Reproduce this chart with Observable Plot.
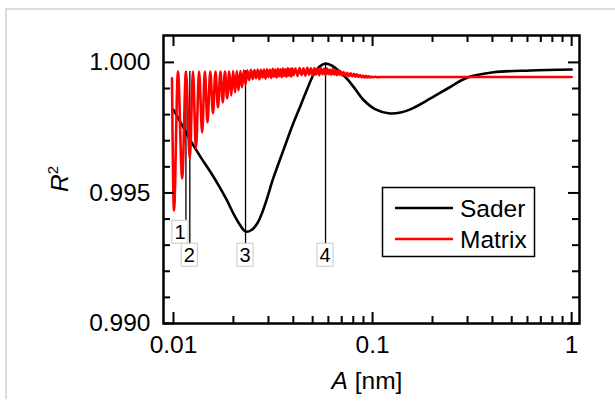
<!DOCTYPE html>
<html><head><meta charset="utf-8">
<script src="https://cdn.jsdelivr.net/npm/d3@7"></script>
<script src="https://cdn.jsdelivr.net/npm/@observablehq/plot@0.6"></script>
<style>
body{margin:0;background:#fff;}
#wrap{position:relative;width:615px;height:412px;overflow:hidden;background:#fff}
#edge{position:absolute;left:5px;top:8px;width:620px;height:389px;border-left:2px solid #dcdcdc;border-top:2px solid #dcdcdc;}
#wrap svg{position:absolute;left:0;top:0}
</style></head><body><div id="wrap"><div id="edge"></div></div>
<script>
// Sader curve
const saderA = [0.0100, 0.010971, 0.012173, 0.013668, 0.015343, 0.016827, 0.018459, 0.020253, 0.021723, 0.023011, 0.024650, 0.026427, 0.028003, 0.029670, 0.031442, 0.035706, 0.039628, 0.043459, 0.047136, 0.050522, 0.054163, 0.058047, 0.062233, 0.06746, 0.07487, 0.08212, 0.09011, 0.10353, 0.12030, 0.13820, 0.16070, 0.19561, 0.23815, 0.30010, 0.40550, 0.62230, 1.0];
const saderR = [0.99818, 0.99764, 0.99701, 0.99638, 0.99580, 0.99530, 0.99475, 0.99413, 0.99374, 0.99352, 0.99358, 0.99385, 0.99428, 0.99485, 0.99548, 0.99665, 0.99759, 0.99834, 0.99901, 0.99953, 0.99984, 0.99996, 0.99988, 0.99969, 0.99935, 0.99896, 0.99856, 0.99820, 0.99805, 0.99808, 0.99826, 0.99862, 0.99900, 0.99942, 0.99962, 0.99969, 0.99973];
// Matrix curve
const matrixA = [0.009828, 0.010058, 0.010534, 0.011057, 0.011555, 0.012076, 0.012529, 0.012971, 0.013444, 0.013934, 0.014376, 0.014815, 0.015303, 0.015789, 0.016253, 0.016730, 0.017221, 0.017684, 0.018139, 0.018606, 0.019055, 0.019501, 0.019935, 0.020378, 0.020807, 0.021219, 0.021666, 0.022096, 0.022561, 0.023010,
 0.0235, 0.0240, 0.0245, 0.0250, 0.0255, 0.0260, 0.0265, 0.0270, 0.0275, 0.0280, 0.0285, 0.0290, 0.0295, 0.0300, 0.0305, 0.0310, 0.0315, 0.0320, 0.0325, 0.0330, 0.0335, 0.0340, 0.0345, 0.0350, 0.0355, 0.0360, 0.0365, 0.0370, 0.0375, 0.0380, 0.0385, 0.0390, 0.0395, 0.0400,
 0.041, 0.042, 0.043, 0.044, 0.045, 0.046, 0.047, 0.048, 0.049, 0.050, 0.051, 0.052, 0.053, 0.054, 0.055, 0.056, 0.057, 0.058, 0.059, 0.060, 0.061, 0.062, 0.063, 0.064, 0.065, 0.066, 0.067, 0.068, 0.069, 0.070,
 0.0715, 0.073, 0.0745, 0.076, 0.0775, 0.079, 0.0805, 0.082, 0.0835, 0.085, 0.0865, 0.088, 0.0895, 0.091, 0.0925, 0.094, 0.0955, 0.097, 0.0985, 0.100, 0.103, 0.106, 0.110, 1.0];
const matrixR = [0.99939, 0.99433, 0.99965, 0.99556, 0.99965, 0.99632, 0.99965, 0.99670, 0.99965, 0.99732, 0.99965, 0.99770, 0.99965, 0.99805, 0.99965, 0.99828, 0.99965, 0.99847, 0.99965, 0.99862, 0.99965, 0.99873, 0.99967, 0.99885, 0.99967, 0.99893, 0.99967, 0.99904, 0.99969, 0.99916,
 0.99970, 0.99932, 0.99972, 0.99936, 0.99971, 0.99939, 0.99973, 0.99935, 0.99972, 0.99942, 0.99973, 0.99938, 0.99974, 0.99944, 0.99972, 0.99940, 0.99975, 0.99945, 0.99973, 0.99942, 0.99975, 0.99947, 0.99974, 0.99943, 0.99976, 0.99948, 0.99974, 0.99945, 0.99977, 0.99949, 0.99975, 0.99946, 0.99977, 0.99951,
 0.99976, 0.99948, 0.99978, 0.99952, 0.99977, 0.99949, 0.99979, 0.99953, 0.99977, 0.99950, 0.99978, 0.99954, 0.99976, 0.99951, 0.99977, 0.99955, 0.99975, 0.99952, 0.99976, 0.99955, 0.99973, 0.99953, 0.99974, 0.99954, 0.99971, 0.99951, 0.99970, 0.99953, 0.99967, 0.99950,
 0.99963, 0.99949, 0.99960, 0.99947, 0.99958, 0.99946, 0.99956, 0.99945, 0.99954, 0.99944, 0.99952, 0.99943, 0.99950, 0.99942, 0.99949, 0.99942, 0.99947, 0.99942, 0.99946, 0.99943, 0.99945, 0.99943, 0.99944, 0.99944];
// Numbered markers
const markerA = [0.01155, 0.01208, 0.02301, 0.05805];
const markerTop = [0.99965, 0.99965, 0.99968, 0.99996];
const markerBottom = [0.99395, 0.99303, 0.99303, 0.99303];
const markerLabelR = [0.99349, 0.99261, 0.99261, 0.99261];
const markerLabel = ["1", "2", "3", "4"];
// Axes
const xTicks = [0.01, 0.1, 1];
const xTickLabels = ["0.01", "0.1", "1"];
const xMinor = [0.02, 0.03, 0.04, 0.05, 0.06, 0.07, 0.08, 0.09, 0.2, 0.3, 0.4, 0.5, 0.6, 0.7, 0.8, 0.9];
const yTicks = [0.990, 0.995, 1.000];
const yTickLabels = ["0.990", "0.995", "1.000"];
const yMinor = [0.991, 0.992, 0.993, 0.994, 0.996, 0.997, 0.998, 0.999];
const seriesNames = ["Sader", "Matrix"];
const seriesColors = ["#000000", "#ff0000"];

const sader = saderA.map((a, i) => ({A: a, R: saderR[i]}));
const matrix = matrixA.map((a, i) => ({A: a, R: matrixR[i]}));
const markers = markerA.map((a, i) => ({A: a, top: markerTop[i], bottom: markerBottom[i], ly: markerLabelR[i], label: markerLabel[i]}));

const W = 615, H = 412, mL = 163, mR = 36, mT = 35, mB = 89;
const fw = W - mL - mR, fh = H - mT - mB;
const FONT = "'Liberation Sans', Arial, Helvetica, sans-serif";
const FS = 24.5;
const LFS = 20;

const plot = Plot.plot({
  width: W, height: H,
  marginLeft: mL, marginRight: mR, marginTop: mT, marginBottom: mB,
  style: {fontFamily: FONT, background: "transparent", overflow: "visible"},
  x: {type: "log", domain: [0.00891, 1.095], axis: null},
  y: {domain: [0.990, 1.00103], axis: null},
  marks: [
    Plot.ruleX(markers, {x: "A", y1: "top", y2: "bottom", stroke: "#000", strokeWidth: 1.3}),
    Plot.line(sader, {x: "A", y: "R", stroke: seriesColors[0], strokeWidth: 2.6, curve: "catmull-rom"}),
    Plot.line(matrix, {x: "A", y: "R", stroke: seriesColors[1], strokeWidth: 2.6, curve: "monotone-x"}),
    Plot.text(markers.slice(0, 1), {x: "A", y: "ly", text: "label", fontSize: LFS, dx: -6, fill: "#000"}),
    Plot.text(markers.slice(1), {x: "A", y: "ly", text: "label", fontSize: LFS, dx: -0.5, fill: "#000"}),
    // ticks (inward)
    Plot.ruleX(xTicks, {x: d => d, insetTop: fh - 11, stroke: "#000", strokeWidth: 2}),
    Plot.ruleX(xTicks, {x: d => d, insetBottom: fh - 11, stroke: "#000", strokeWidth: 2}),
    Plot.ruleX(xMinor, {x: d => d, insetTop: fh - 7, stroke: "#000", strokeWidth: 2}),
    Plot.ruleX(xMinor, {x: d => d, insetBottom: fh - 7, stroke: "#000", strokeWidth: 2}),
    Plot.ruleY(yTicks, {y: d => d, insetRight: fw - 11, stroke: "#000", strokeWidth: 2}),
    Plot.ruleY(yTicks, {y: d => d, insetLeft: fw - 11, stroke: "#000", strokeWidth: 2}),
    Plot.ruleY(yMinor, {y: d => d, insetRight: fw - 7, stroke: "#000", strokeWidth: 2}),
    Plot.ruleY(yMinor, {y: d => d, insetLeft: fw - 7, stroke: "#000", strokeWidth: 2}),
    Plot.frame({stroke: "#000", strokeWidth: 2.5}),
    // tick labels
    Plot.text(xTicks, {x: d => d, text: (d, i) => xTickLabels[i], frameAnchor: "bottom", lineAnchor: "middle", dy: 22, fontSize: FS, fill: "#000"}),
    Plot.text(yTicks, {y: d => d, text: (d, i) => yTickLabels[i], frameAnchor: "left", lineAnchor: "middle", dx: -13, textAnchor: "end", fontSize: FS, fill: "#000"})
  ]
});
document.getElementById("wrap").appendChild(plot);

const svg = d3.select(plot);
// boxes behind marker labels
svg.selectAll('g[aria-label="text"]').filter(function() { return this.getAttribute("font-size") === String(LFS); })
  .selectAll("text").each(function() {
    const b = this.getBBox();
    const r = document.createElementNS("http://www.w3.org/2000/svg", "rect");
    r.setAttribute("x", b.x - 2.5);
    r.setAttribute("y", b.y - 0.5);
    r.setAttribute("width", b.width + 5);
    r.setAttribute("height", b.height + 1);
    r.setAttribute("fill", "#fff");
    r.setAttribute("stroke", "#c8c8c8");
    r.setAttribute("stroke-width", 1);
    const t = this.getAttribute("transform");
    if (t) r.setAttribute("transform", t);
    this.parentNode.insertBefore(r, this);
  });

// axis titles
const xt = svg.append("text").attr("x", 367).attr("y", 389).attr("text-anchor", "middle")
  .attr("font-family", FONT).attr("font-size", FS).attr("fill", "#000");
xt.append("tspan").attr("font-style", "italic").text("A");
xt.append("tspan").text(" [nm]");

const yt = svg.append("text").attr("transform", "translate(68,179) rotate(-90)").attr("text-anchor", "middle")
  .attr("font-family", FONT).attr("font-size", FS).attr("fill", "#000");
yt.append("tspan").attr("font-style", "italic").text("R");
yt.append("tspan").attr("font-size", 15).attr("dy", -10).text("2");

// legend
const lg = svg.append("g");
lg.append("rect").attr("x", 382.5).attr("y", 187.5).attr("width", 152).attr("height", 69)
  .attr("fill", "#fff").attr("stroke", "#000").attr("stroke-width", 1.5);
seriesNames.forEach((name, i) => {
  const cy = 208 + i * 31;
  lg.append("line").attr("x1", 395).attr("x2", 453).attr("y1", cy).attr("y2", cy)
    .attr("stroke", seriesColors[i]).attr("stroke-width", 2.6);
  lg.append("text").attr("x", 460).attr("y", cy + 8.5).attr("text-anchor", "start").attr("font-family", FONT)
    .attr("font-size", FS).attr("fill", "#000").text(name);
});
</script></body></html>
